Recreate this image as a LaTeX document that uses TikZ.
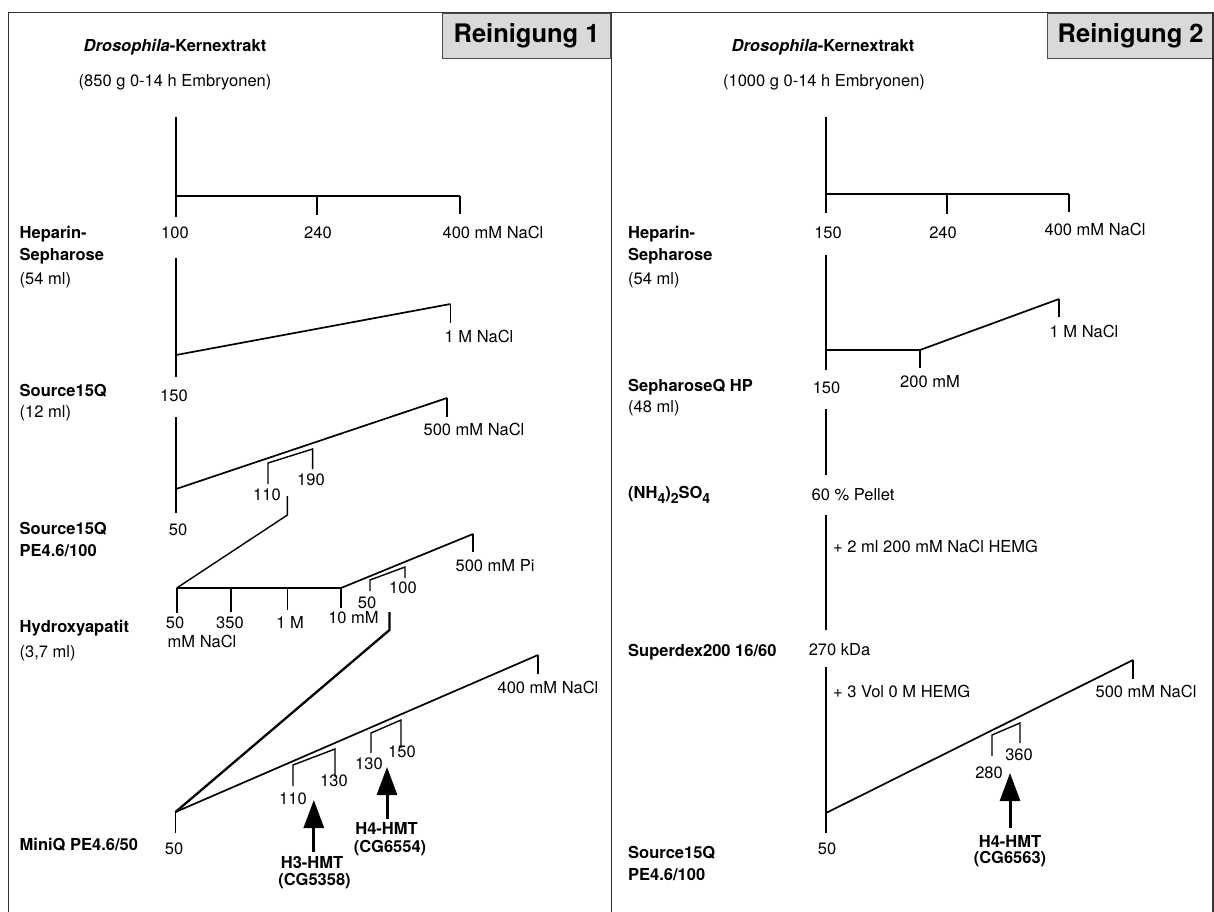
\documentclass[tikz,border=0pt]{standalone}
\usepackage{fontspec}
\setmainfont{TeX Gyre Heros}
\usetikzlibrary{arrows.meta}
\newcommand{\lowsub}[1]{\raisebox{-5pt}{\fontsize{14}{14}\selectfont #1}}
\begin{document}
\begin{tikzpicture}[x=1pt,y=-1pt,
  txt/.style={font=\fontsize{16.5}{19}\selectfont, inner sep=0pt, text height=11.9pt, text depth=0pt},
  lbl/.style={txt, font=\fontsize{16.5}{19}\selectfont\bfseries, anchor=west},
  ttl/.style={txt, font=\fontsize{16.5}{19}\selectfont\bfseries},
  ln/.style={line width=1.7pt},
  tk/.style={line width=1.4pt},
  thk/.style={line width=2.3pt},
  frame/.style={line width=1.3pt, draw=black!80},
  rbox/.style={draw=black!70, line width=1.3pt, fill=black!15, inner sep=0pt,
    font=\fontsize{25.5}{28}\selectfont\bfseries, minimum height=45.3pt},
  hmt/.style={-{Triangle[width=20pt,length=28pt]}, line width=3pt},
]
\useasboundingbox (0,0) rectangle (1214,911);

% ---------- boxes and frames ----------
\node[rbox, anchor=north east, minimum width=168.5pt] (r1) at (611.5,12.7) {Reinigung 1};
\node[rbox, anchor=north west, minimum width=166pt] (r2) at (611.5+435.5,12.7) {Reinigung 2};
\coordinate (fTL) at (8.5,12.7);
\coordinate (fTM) at (611.5,12.7);
\coordinate (fTR) at (1213,12.7);
\coordinate (fBL) at (8.5,912);
\coordinate (fBM) at (611.5,912);
\coordinate (fBR) at (1213,912);
\draw[frame] (fBL) -- (fTL) -- (fTR) -- (fBR);
\draw[frame] (fTM) -- (fBM);

% =================== LEFT PANEL ===================
\node[ttl] (dk1) at (175,46) {\textit{Drosophila}-Kernextrakt};
\node[txt] (em1) at (175,81) {(850 g 0-14 h Embryonen)};

% --- Heparin-Sepharose ---
\node[lbl] (hs1a) at (19.5,233) {Heparin-};
\node[lbl] (hs1b) at (19.5,255) {Sepharose};
\node[txt, anchor=west] (hs1c) at (19.5,279) {(54 ml)};
\coordinate (a1t) at (176,117);
\coordinate (a1b) at (176,217);
\coordinate (a1h0) at (176,196);
\coordinate (a1h1) at (317,196);
\coordinate (a1h1b) at (317,215);
\coordinate (a1h2) at (460,196);
\coordinate (a1h2b) at (460,214);
\draw[ln] (a1t) -- (a1b);
\draw[ln] (a1h0) -- (a1h2);
\draw[tk] (a1h1) -- (a1h1b);
\draw[ln] (a1h2) -- (a1h2b);
\node[txt] (n100) at (175,233) {100};
\node[txt] (n240) at (318,233) {240};
\node[txt] (n400a) at (493,233) {400 mM NaCl};

% --- Source15Q ---
\coordinate (b1t) at (176,258);
\coordinate (b1b) at (176,377);
\coordinate (b1g0) at (176,355);
\coordinate (b1g1) at (450.5,304);
\coordinate (b1g1b) at (450.5,323);
\draw[tk] (b1t) -- (b1b);
\draw[ln] (b1g0) -- (b1g1);
\draw[tk] (b1g1) -- (b1g1b);
\node[txt] (n1M) at (479,337) {1 M NaCl};
\node[txt] (n150a) at (174,396) {150};
\node[lbl] (s15a) at (19.5,391) {Source15Q};
\node[txt, anchor=west] (s15b) at (19.5,412) {(12 ml)};

% --- Source15Q PE ---
\coordinate (c1t) at (176,417);
\coordinate (c1b) at (176,513);
\coordinate (c1g0) at (176,489);
\coordinate (c1g1) at (447,398);
\coordinate (c1g1b) at (447,417);
\draw[tk] (c1t) -- (c1b);
\draw[ln] (c1g0) -- (c1g1);
\draw[tk] (c1g1) -- (c1g1b);
\node[txt] (n500a) at (474,430) {500 mM NaCl};
\coordinate (c1k0) at (268,484);
\coordinate (c1k1) at (268,463);
\coordinate (c1k2) at (312.6,449);
\coordinate (c1k3) at (312.6,469);
\draw[tk] (c1k0) -- (c1k1) -- (c1k2) -- (c1k3);
\node[txt] (n110a) at (267,495) {110};
\node[txt] (n190) at (311,480) {190};
\coordinate (c1p0) at (287.4,496);
\coordinate (c1p1) at (287.4,515);
\coordinate (d1h0) at (176.7,588);
\draw[tk] (c1p0) -- (c1p1) -- (d1h0);
\node[txt] (n50a) at (178,530) {50};
\node[lbl] (s15c) at (19.5,529) {Source15Q};
\node[lbl] (s15d) at (19.5,551) {PE4.6/100};

% --- Hydroxyapatit ---
\coordinate (d1h1) at (231,588);
\coordinate (d1h2) at (287.4,588);
\coordinate (d1h3) at (341,588);
\coordinate (d1t0) at (176.7,613);
\coordinate (d1t1) at (231,612);
\coordinate (d1t2) at (287.4,610);
\coordinate (d1t3) at (341,608);
\draw[ln] (d1h0) -- (d1h3);
\draw[ln] (d1h0) -- (d1t0);
\draw[tk] (d1h1) -- (d1t1);
\draw[tk] (d1h2) -- (d1t2);
\draw[tk] (d1h3) -- (d1t3);
\node[txt] (n50b) at (175,623) {50};
\node[txt] (n350) at (230,623) {350};
\node[txt] (n1Mb) at (290,623) {1 M};
\node[txt] (n10mM) at (353.5,618) {10 mM};
\node[txt] (nmMNaCl) at (202,642) {mM NaCl};
\coordinate (d1g1) at (473,534);
\coordinate (d1g1b) at (473,552);
\draw[ln] (d1h3) -- (d1g1);
\draw[tk] (d1g1) -- (d1g1b);
\node[txt] (nPi) at (495,566) {500 mM Pi};
\coordinate (d1k0) at (370,591);
\coordinate (d1k1) at (370,580);
\coordinate (d1k2) at (405,567);
\coordinate (d1k3) at (405,578);
\draw[tk] (d1k0) -- (d1k1) -- (d1k2) -- (d1k3);
\node[txt] (n50c) at (367,603) {50};
\node[txt] (n100b) at (403,588) {100};
\coordinate (d1p0) at (389.5,612);
\coordinate (d1p1) at (389.5,630);
\coordinate (e1g0) at (175.5,812);
\draw[thk] (d1p0) -- (d1p1) -- (e1g0);
\node[lbl] (hya) at (19.5,627) {Hydroxyapatit};
\node[txt, anchor=west] (hyb) at (19.5,652) {(3,7 ml)};

% --- MiniQ ---
\coordinate (e1g1) at (538,655);
\coordinate (e1g1b) at (538,674);
\coordinate (e1b) at (175.5,833);
\draw[ln] (e1g0) -- (e1g1);
\draw[tk] (e1g1) -- (e1g1b);
\draw[tk] (e1g0) -- (e1b);
\node[txt] (n400b) at (548,688) {400 mM NaCl};
\node[txt] (n50d) at (174,849) {50};
\coordinate (e1k0) at (293,786);
\coordinate (e1k1) at (293,765);
\coordinate (e1k2) at (335,749);
\coordinate (e1k3) at (335,777);
\draw[tk] (e1k0) -- (e1k1) -- (e1k2) -- (e1k3);
\node[txt] (n110b) at (293,799) {110};
\node[txt] (n130a) at (334,781) {130};
\coordinate (e1m0) at (371,753);
\coordinate (e1m1) at (371,733);
\coordinate (e1m2) at (401,720);
\coordinate (e1m3) at (401,748);
\draw[tk] (e1m0) -- (e1m1) -- (e1m2) -- (e1m3);
\node[txt] (n130b) at (369,764) {130};
\node[txt] (n150b) at (402,752) {150};
\coordinate (ar1s) at (313.8,852);
\coordinate (ar1t) at (313.8,800);
\draw[hmt] (ar1s) -- (ar1t);
\node[ttl] (h3a) at (312,863) {H3-HMT};
\node[ttl] (h3b) at (314.5,880) {(CG5358)};
\coordinate (ar2s) at (387,819);
\coordinate (ar2t) at (387,767);
\draw[hmt] (ar2s) -- (ar2t);
\node[ttl] (h4a) at (386.5,829) {H4-HMT};
\node[ttl] (h4b) at (390,847) {(CG6554)};
\node[lbl] (miq) at (19.5,845) {MiniQ PE4.6/50};

% =================== RIGHT PANEL ===================
\node[ttl] (dk2) at (823,46) {\textit{Drosophila}-Kernextrakt};
\node[txt] (em2) at (824,81) {(1000 g 0-14 h Embryonen)};

% --- Heparin ---
\coordinate (f1t) at (826,117);
\coordinate (f1b) at (826,213);
\coordinate (f1h0) at (826,194);
\coordinate (f1h1) at (947,194);
\coordinate (f1h1b) at (947,214);
\coordinate (f1h2) at (1069,194);
\coordinate (f1h2b) at (1069,212);
\draw[tk] (f1t) -- (f1b);
\draw[tk] (f1h0) -- (f1h2);
\draw[tk] (f1h1) -- (f1h1b);
\draw[tk] (f1h2) -- (f1h2b);
\node[txt] (m150a) at (828,233) {150};
\node[txt] (m240) at (943,233) {240};
\node[txt] (m400) at (1095,230) {400 mM NaCl};
\node[lbl] (hs2a) at (628,233) {Heparin-};
\node[lbl] (hs2b) at (628,255) {Sepharose};
\node[txt, anchor=west] (hs2c) at (628,279) {(54 ml)};

% --- SepharoseQ ---
\coordinate (g1t) at (826,255);
\coordinate (g1b) at (826,370);
\coordinate (g1h0) at (826,350);
\coordinate (g1h1) at (920,350);
\coordinate (g1h1b) at (920,368);
\coordinate (g1g1) at (1059,299);
\coordinate (g1g1b) at (1059,317);
\draw[tk] (g1t) -- (g1b);
\draw[ln] (g1h0) -- (g1h1) -- (g1g1);
\draw[tk] (g1h1) -- (g1h1b);
\draw[tk] (g1g1) -- (g1g1b);
\node[txt] (m1M) at (1084,332) {1 M NaCl};
\node[txt] (m200) at (930,382) {200 mM};
\node[txt] (m150b) at (826.5,388) {150};
\node[lbl] (sq1) at (628,386) {SepharoseQ HP};
\node[txt, anchor=west] (sq2) at (628,407) {(48 ml)};

% --- Ammonium sulfate ---
\coordinate (h1t) at (826,409);
\coordinate (h1b) at (826,475);
\draw[tk] (h1t) -- (h1b);
\node[lbl] (amm) at (628,493) {(NH\lowsub{4})\lowsub{2}SO\lowsub{4}};
\node[txt] (pel) at (853,495) {60 \% Pellet};
\coordinate (i1t) at (826,515);
\coordinate (i1b) at (826,630);
\draw[tk] (i1t) -- (i1b);
\node[txt, anchor=west] (add1) at (833,547) {+ 2 ml 200 mM NaCl HEMG};

% --- Superdex ---
\node[lbl] (sdx) at (628,651) {Superdex200 16/60};
\node[txt] (kda) at (839.5,650) {270 kDa};
\coordinate (j1t) at (826,667);
\coordinate (j1b) at (826,833);
\coordinate (j1g0) at (826,813);
\coordinate (j1g1) at (1133,660);
\coordinate (j1g1b) at (1133,679);
\draw[tk] (j1t) -- (j1b);
\draw[ln] (j1g0) -- (j1g1);
\draw[tk] (j1g1) -- (j1g1b);
\node[txt, anchor=west] (add2) at (833,692) {+ 3 Vol 0 M HEMG};
\node[txt] (m500) at (1146,692) {500 mM NaCl};
\coordinate (j1k0) at (992,756);
\coordinate (j1k1) at (992,735);
\coordinate (j1k2) at (1020,723);
\coordinate (j1k3) at (1020,743);
\draw[tk] (j1k0) -- (j1k1) -- (j1k2) -- (j1k3);
\node[txt] (m280) at (989,773) {280};
\node[txt] (m360) at (1019,755) {360};
\coordinate (ar3s) at (1010,828);
\coordinate (ar3t) at (1010,773);
\draw[hmt] (ar3s) -- (ar3t);
\node[ttl] (h4c) at (1010,842) {H4-HMT};
\node[ttl] (h4d) at (1010,858) {(CG6563)};
\node[txt] (m50) at (827,849) {50};
\node[lbl] (s15e) at (628,853) {Source15Q};
\node[lbl] (s15f) at (628,875) {PE4.6/100};
\end{tikzpicture}
\end{document}
